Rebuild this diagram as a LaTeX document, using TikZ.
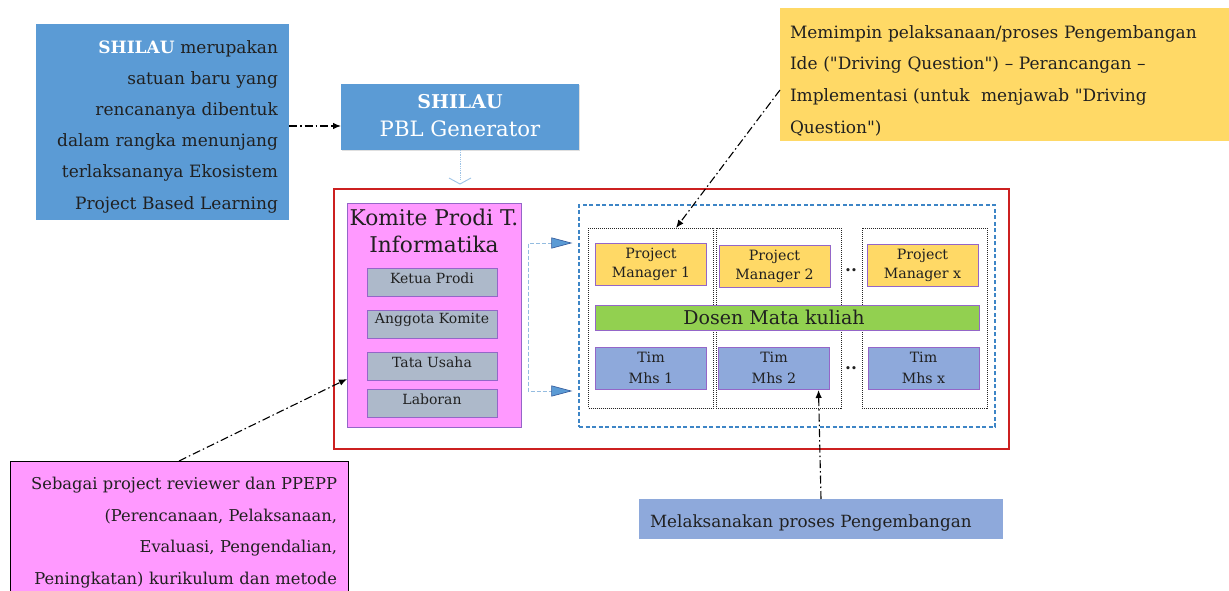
\documentclass[tikz,border=0pt]{standalone}
\usepackage{fontspec}
\setmainfont{DejaVu Serif}[Ligatures=TeXOff]
\usetikzlibrary{arrows.meta,calc,shadows}

\definecolor{ink}{HTML}{202020}
\definecolor{boxblue}{HTML}{5B9BD5}
\definecolor{pinkfill}{HTML}{FF99FF}
\definecolor{purp}{HTML}{9466C8}
\definecolor{grayfill}{HTML}{ADB9CA}
\definecolor{yelfill}{HTML}{FFD966}
\definecolor{greenfill}{HTML}{92D050}
\definecolor{lblue}{HTML}{8EA9DB}
\definecolor{frame}{HTML}{CC2020}
\definecolor{dashblue}{HTML}{3D85C6}
\definecolor{paleblue}{HTML}{9DC3E6}
\definecolor{tipline}{HTML}{2F5597}

% shift the text inside a box without changing its size
\newcommand\lift[2]{\raisebox{#1}[\height][\depth]{#2}}

\tikzset{
  bluetri/.tip={Triangle[length=21pt,width=11pt,fill=boxblue,color=tipline,line width=0.6pt]}
}

\begin{document}
\begin{tikzpicture}[x=1pt,y=-1pt,
  blk/.style={inner sep=0pt, outer sep=0pt, align=center, text=ink},
  graybox/.style={blk, fill=grayfill, draw=purp, line width=0.8pt,
    minimum width=130pt, minimum height=28pt, font=\fontsize{14}{16}\selectfont},
  pmbox/.style={blk, fill=yelfill, draw=purp, line width=0.8pt,
    minimum width=111pt, minimum height=42pt, font=\fontsize{14.2}{19}\selectfont},
  timbox/.style={blk, fill=lblue, draw=purp, line width=0.8pt,
    minimum width=111pt, minimum height=42pt, font=\fontsize{14.2}{21}\selectfont},
  colbox/.style={draw=black!85, densely dotted, line width=1pt,
    minimum width=125pt, minimum height=180pt, inner sep=0pt, outer sep=0pt},
  dd/.style={draw=black, line width=1.1pt,
    dash pattern=on 8pt off 3pt on 1.5pt off 3pt,
    -{Latex[length=8pt,width=6.5pt]}},
  dots/.style={font=\fontsize{17}{17}\selectfont\bfseries, text=ink, inner sep=0pt}
]
\useasboundingbox (0,0) rectangle (1229,591);

% ---------- description of SHILAU ----------
\node[blk, fill=boxblue, minimum width=253pt, minimum height=196pt,
      inner xsep=11pt, text width=231pt, align=right,
      font=\fontsize{17}{31.2}\selectfont] (info) at (162.5,122)
  {\lift{-4.5pt}{\textcolor{white}{\textbf{SHILAU}} merupakan}\\
   \lift{-4.5pt}{satuan baru yang}\\
   \lift{-4.5pt}{rencananya dibentuk}\\
   \lift{-4.5pt}{dalam rangka menunjang}\\
   \lift{-4.5pt}{terlaksananya Ekosistem}\\
   \lift{-4.5pt}{Project Based Learning}};

% ---------- SHILAU PBL Generator ----------
\node[blk, fill=boxblue, text=white, minimum width=238pt, minimum height=66pt,
      drop shadow={opacity=0.25, shadow xshift=1.2pt, shadow yshift=-1.2pt}] (pbl) at (460,117)
  {{\fontsize{19}{20}\selectfont\bfseries \lift{3pt}{SHILAU}}\\[8pt]
   {\fontsize{21.2}{24}\selectfont PBL Generator}};

\draw[dd] (info.east |- 0,126) -- (pbl.west |- 0,126);

% link from the generator down to the organisation
\coordinate (chev) at ($(pbl.south)+(0,34)$);
\draw[paleblue, densely dotted, line width=0.8pt] (pbl.south) -- ($(chev)+(0,-4)$);
\draw[paleblue, line width=0.9pt] ($(chev)+(-11,-6)$) -- (chev) -- ($(chev)+(11,-6)$);

% ---------- organisation frame ----------
\node[draw=frame, line width=1.7pt, minimum width=675pt, minimum height=260pt,
      inner sep=0pt] (org) at (671.5,319) {};

% committee of the study programme
\node[blk, fill=pinkfill, draw=purp, line width=0.8pt,
      minimum width=174pt, minimum height=224pt] (komite) at (434,315) {};
\node[blk, font=\fontsize{21.7}{27}\selectfont] (komtitle) at (434,231)
  {Komite Prodi T.\\Informatika};
\node[graybox] (ketua)   at (432,282.5) {\lift{4pt}{Ketua Prodi}};
\node[graybox] (anggota) at (432,324)   {\lift{4pt}{Anggota Komite}};
\node[graybox] (tata)    at (432,366)   {\lift{4pt}{Tata Usaha}};
\node[graybox] (laboran) at (432,403.5) {\lift{4pt}{Laboran}};

% project teams
\node[draw=dashblue, line width=1.3pt, dash pattern=on 4pt off 2.5pt,
      minimum width=416pt, minimum height=222pt, inner sep=0pt] (team) at (787,316) {};
\node[colbox] (col1) at (651,318) {};
\node[colbox] (col2) at (778.5,318) {};
\node[colbox] (col3) at (924.5,318) {};

\node[pmbox] (pm1) at (651,264)   {Project\\Manager 1};
\node[pmbox] (pm2) at (774.5,266) {Project\\Manager 2};
\node[pmbox] (pmx) at (922.5,265) {Project\\Manager x};

\node[blk, fill=greenfill, draw=purp, line width=0.8pt, minimum width=384pt,
      minimum height=25pt, font=\fontsize{19}{20}\selectfont] (dosen) at (787,317.5)
  {\hspace*{-26pt}Dosen Mata kuliah};

\node[timbox] (tim1) at (651,368)   {Tim\\Mhs 1};
\node[timbox] (tim2) at (774,368)   {Tim\\Mhs 2};
\node[timbox] (timx) at (923.5,368) {Tim\\Mhs x};

\node[dots] (gap1) at (851,270) {..};
\node[dots] (gap2) at (851,368) {..};

% committee to teams
\coordinate (a1) at ($(team.west |- 0,243)+(-6,0)$);
\coordinate (a2) at ($(team.west |- 0,391)+(-6,0)$);
\coordinate (j1) at ($(komite.east |- 0,243)+(7,0)$);
\coordinate (j2) at ($(komite.east |- 0,391)+(7,0)$);
\draw[dashblue!55, line width=1pt, dash pattern=on 4pt off 2pt, bluetri-bluetri]
  (a1) -- (j1) -- (j2) -- (a2);

% ---------- notes ----------
\node[blk, fill=yelfill, minimum width=449pt, minimum height=133pt,
      inner xsep=10pt, text width=429pt, align=left,
      font=\fontsize{17}{31.7}\selectfont] (notepm) at (1004.5,74.5)
  {\lift{-6pt}{Memimpin pelaksanaan/proses Pengembangan}\\
   \lift{-6pt}{Ide ("Driving Question") – Perancangan –}\\
   \lift{-6pt}{Implementasi (untuk\ \ menjawab "Driving}\\
   \lift{-6pt}{Question")}};

\node[blk, fill=pinkfill, draw=black, line width=1pt, minimum width=338pt,
      minimum height=139pt, inner xsep=11pt, text width=316pt, align=right,
      font=\fontsize{16.3}{31.7}\selectfont] (notekom) at (179,530.5)
  {\lift{-2pt}{Sebagai project reviewer dan PPEPP}\\
   \lift{-2pt}{(Perencanaan, Pelaksanaan,}\\
   \lift{-2pt}{Evaluasi, Pengendalian,}\\
   \lift{-2pt}{Peningkatan) kurikulum dan metode}};

\node[blk, fill=lblue, minimum width=364pt, minimum height=40pt,
      inner xsep=11pt, text width=342pt, align=left,
      font=\fontsize{16.8}{20}\selectfont] (notetim) at (821,519)
  {\lift{-4pt}{Melaksanakan proses Pengembangan}};

\draw[dd] (notepm.west |- 0,90) -- ($(col1.north)+(25,0)$);
\draw[dd] (notekom.north) -- (komite.west |- 0,379);
\draw[dd] (notetim.north) -- ($(tim2.south east)+(-11,1)$);
\end{tikzpicture}
\end{document}
